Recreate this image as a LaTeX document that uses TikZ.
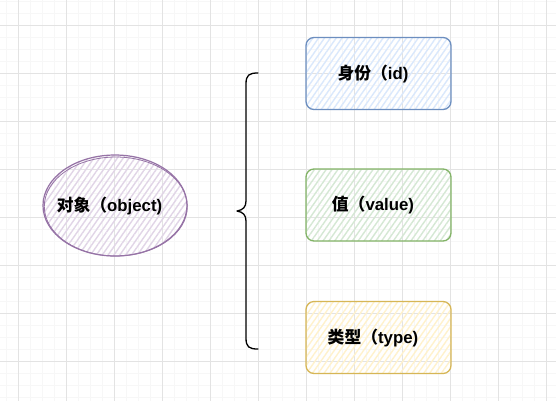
\documentclass[tikz,border=0pt]{standalone}
\usepackage{fontspec}
\setmainfont{Liberation Sans}
\newfontfamily\cjk{Noto Sans CJK SC}
\usetikzlibrary{shapes.geometric,patterns.meta}
\definecolor{gridmaj}{HTML}{E3E3E3}
\definecolor{gridmin}{HTML}{F7F7F7}
\definecolor{pStroke}{HTML}{9673A6}\definecolor{pFill}{HTML}{E1D5E7}
\definecolor{bStroke}{HTML}{6C8EBF}\definecolor{bFill}{HTML}{DAE8FC}
\definecolor{gStroke}{HTML}{82B366}\definecolor{gFill}{HTML}{D5E8D4}
\definecolor{yStroke}{HTML}{D6B656}\definecolor{yFill}{HTML}{FFF2CC}
\newcommand{\padr}{\hspace*{11bp}}
\tikzset{
  lbl/.style={font=\fontsize{16.8bp}{20bp}\selectfont\bfseries, text=black},
  sketchbox/.style={rectangle, rounded corners=8bp, minimum width=145bp, minimum height=72bp, line width=1.3bp, inner sep=0pt, lbl},
  hatch/.style={pattern={Lines[angle=55,distance=4.8bp,line width=1.4bp]}, pattern color=#1},
}
\begin{document}
\begin{tikzpicture}[x=1bp,y=-1bp]
\useasboundingbox (0,0) rectangle (556,401);
\fill[white] (0,0) rectangle (556,401);
% minor grid
\foreach \x in {6,18,...,556} \draw[gridmin, line width=0.8bp] (\x,0) -- (\x,401);
\foreach \y in {1,13,...,401} \draw[gridmin, line width=0.8bp] (0,\y) -- (556,\y);
% major grid
\foreach \x in {18,66,...,556} \draw[gridmaj, line width=0.8bp] (\x,0) -- (\x,401);
\foreach \y in {25,73,...,401} \draw[gridmaj, line width=0.8bp] (0,\y) -- (556,\y);

% shapes
\node[ellipse, inner sep=0pt, minimum width=144bp, minimum height=101bp, draw=pStroke, line width=1.2bp, hatch=pFill] (obj) at (115,205.5) {};
\draw[pStroke, line width=0.8bp] ([xshift=0.8bp,yshift=-1bp]obj.center) ellipse [x radius=71.5bp, y radius=49.5bp];
\node[lbl] (objlbl) at (obj.center) {{\cjk 对象（}object)\padr};

\node[sketchbox, draw=bStroke, hatch=bFill] (id) at (378.5,73.5) {{\cjk 身份（}id)\padr};
\node[sketchbox, draw=gStroke, hatch=gFill] (val) at (378.5,205) {{\cjk 值（}value)\padr};
\node[sketchbox, draw=yStroke, hatch=yFill] (typ) at (378.5,337.5) {{\cjk 类型（}type)\padr};

% brace
\draw[black, line width=1.3bp, line join=round, line cap=round]
  (258,73) .. controls (249,73) and (246,75) .. (246,84)
  -- (246,201) .. controls (246,207) and (243,210) .. (237,211)
  .. controls (243,212) and (246,215) .. (246,221)
  -- (246,338) .. controls (246,347) and (249,349) .. (258,349);
\end{tikzpicture}
\end{document}
